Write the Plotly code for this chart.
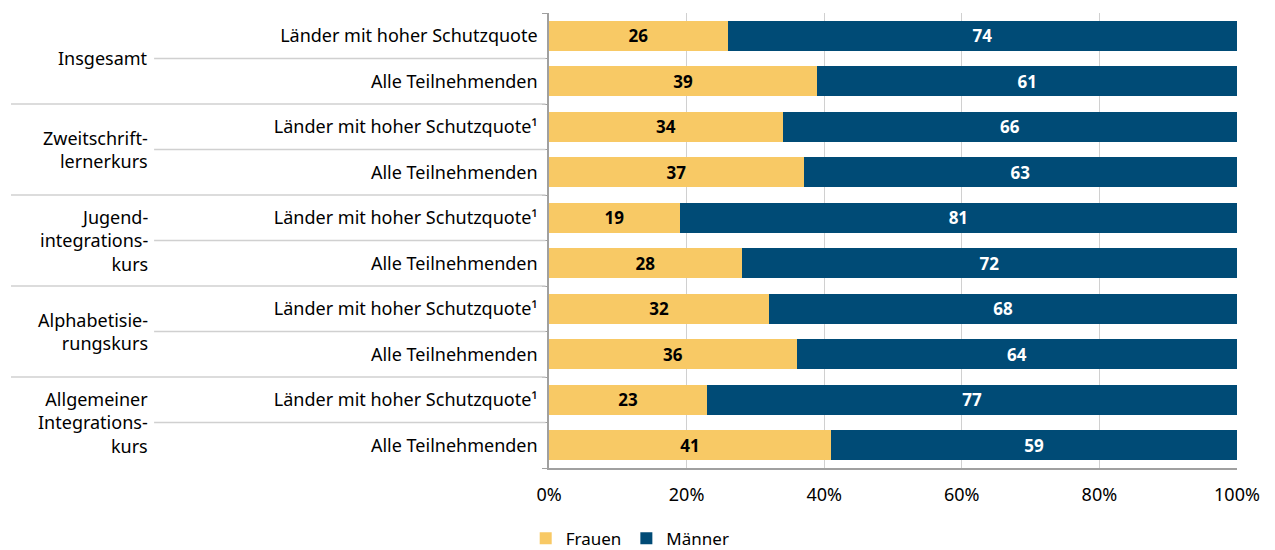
import plotly.express as px
import plotly.graph_objects as go
import pandas as pd

# Kursarten (oben nach unten) und ihre zwei Teilgruppen mit Frauenanteil in %
KURSE = [
    ('Insgesamt', 'Insgesamt', 26, 39),
    ('Zweitschriftlernerkurs', 'Zweitschrift-<br>lernerkurs', 34, 37),
    ('Jugendintegrationskurs', 'Jugend-<br>integrations-<br>kurs', 19, 28),
    ('Alphabetisierungskurs', 'Alphabetisie-<br>rungskurs', 32, 36),
    ('Allgemeiner Integrationskurs', 'Allgemeiner<br>Integrations-<br>kurs', 23, 41),
]

FARBEN = {'Frauen': '#F8C965', 'Männer': '#004B76'}


def build_df() -> pd.DataFrame:
    """
    Builds the long-format table (one row per bar segment).

    Returns:
        pd.DataFrame: Columns 'Key', 'Label', 'Geschlecht', 'Value'.
    """
    rows = []
    for kurs, _, hoch, alle in KURSE:
        sup = '' if kurs == 'Insgesamt' else '¹'
        for teil, frauen in ((f'Länder mit hoher Schutzquote{sup}', hoch), ('Alle Teilnehmenden', alle)):
            key = f'{kurs} | {teil}'
            rows.append({'Key': key, 'Label': teil, 'Geschlecht': 'Frauen', 'Value': frauen})
            rows.append({'Key': key, 'Label': teil, 'Geschlecht': 'Männer', 'Value': 100 - frauen})
    return pd.DataFrame(rows)


def plot_gender_stacked_bar(df: pd.DataFrame) -> go.Figure:
    """
    Generates a horizontal 100% stacked bar chart of women/men share per course type.

    Args:
        df (pd.DataFrame): Long-format DataFrame from build_df().

    Returns:
        go.Figure: A Plotly Express bar chart figure.
    """
    fig = px.bar(
        df,
        x='Value',
        y='Key',
        color='Geschlecht',
        orientation='h',
        text='Value',
        color_discrete_map=FARBEN,
        labels={'Value': '', 'Key': '', 'Geschlecht': ''}
    )
    fig.update_traces(textposition='inside', insidetextanchor='middle', textangle=0,
                      textfont=dict(size=17, weight='bold'), marker_line_width=0)
    fig.for_each_trace(lambda t: t.update(textfont_color='black' if t.name == 'Frauen' else 'white'))

    keys = list(dict.fromkeys(df['Key']))
    labels = list(dict.fromkeys(zip(df['Key'], df['Label'])))
    fig.update_layout(
        barmode='stack',  # gestapelt auf 100 %
        bargap=0.35,
        width=1275,
        height=550,
        margin=dict(l=541, r=46, t=5, b=90, autoexpand=False),  # Seite hat 8 px Rand im Browser
        plot_bgcolor='white',
        paper_bgcolor='white',
        font=dict(family='Noto Sans', size=18, color='black'),
        legend=dict(orientation='h', xref='container', x=0.488, xanchor='center',
                    yref='container', y=0.035, yanchor='middle', title_text='',
                    font=dict(size=17), itemwidth=30, tracegroupgap=0),
        xaxis=dict(range=[0, 100], tickvals=[0, 20, 40, 60, 80, 100],
                   ticktext=['0%', '20%', '40%', '60%', '80%', '100%'],
                   showgrid=True, gridcolor='#d0d0d0', gridwidth=1,
                   showline=True, linecolor='#a0a0a0', linewidth=1.5,
                   ticks='outside', ticklen=10, tickcolor='rgba(0,0,0,0)',
                   zeroline=False, fixedrange=True),
        yaxis=dict(categoryorder='array', categoryarray=keys, autorange='reversed',
                   tickvals=[k for k, _ in labels], ticktext=[l for _, l in labels],
                   tickson='boundaries', ticks='outside', ticklen=5, tickcolor='#a0a0a0',
                   ticklabelstandoff=6,
                   showline=True, linecolor='#a0a0a0', linewidth=1.5,
                   showgrid=False, fixedrange=True)
    )

    n = len(keys)
    for i, (_, text, _, _) in enumerate(KURSE):
        top = 1 - 2 * i / n
        fig.add_annotation(xref='paper', yref='paper', x=-0.58, y=top - 1 / n,
                           text=text, showarrow=False, xanchor='right', yanchor='middle',
                           align='right', font=dict(size=18))
        # Linie zwischen den beiden Teilgruppen
        fig.add_shape(type='line', xref='paper', yref='paper', x0=-0.574, x1=-0.005,
                      y0=top - 1 / n, y1=top - 1 / n, line=dict(color='#d0d0d0', width=1.5))
        if i > 0:  # Trennlinie zwischen Kursarten
            fig.add_shape(type='line', xref='paper', yref='paper', x0=-0.782, x1=-0.005,
                          y0=top, y1=top, line=dict(color='#d0d0d0', width=1.5))
    return fig


fig = plot_gender_stacked_bar(build_df())
fig.write_html('out.html')
